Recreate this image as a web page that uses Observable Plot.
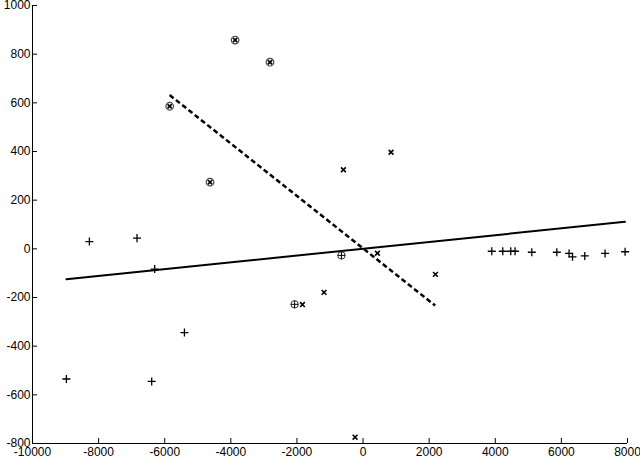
<!DOCTYPE html>
<html>
<head>
<meta charset="utf-8">
<script src="https://cdn.jsdelivr.net/npm/d3@7"></script>
<script src="https://cdn.jsdelivr.net/npm/@observablehq/plot@0.6"></script>
<style>
  html, body { margin: 0; padding: 0; background: #fff; }
</style>
</head>
<body>
<div id="chart"></div>
<script>
const xTicks = [-10000, -8000, -6000, -4000, -2000, 0, 2000, 4000, 6000, 8000];
const yTicks = [-800, -600, -400, -200, 0, 200, 400, 600, 800, 1000];

const plusX = [-8279, -6838, -6303, -5404, -8975, -6394, 3894, 4227, 4469, 4599, 5105, 5862, 6233, 6336, 6708, 7322, 7927];
const plusY = [30, 44, -83, -344, -535, -545, -10, -10, -10, -10, -14, -14, -19, -33, -29, -19, -12];

const timesX = [847, -594, -1834, 435, 2190, -1180, -242];
const timesY = [397, 325, -229, -18, -105, -179, -774];

const circTimesX = [-5850, -3870, -2815, -4630];
const circTimesY = [586, 858, 767, 274];

const circPlusX = [-2070, -654];
const circPlusY = [-228, -27];

const solidX = [-8975, 7921];
const solidY = [-125, 111];

const dashX = [-5850, 2180];
const dashY = [632, -233];

const zip = (xs, ys) => xs.map((x, i) => ({x, y: ys[i]}));
const plus = zip(plusX, plusY);
const times = zip(timesX, timesY);
const circTimes = zip(circTimesX, circTimesY);
const circPlus = zip(circPlusX, circPlusY);
const solid = zip(solidX, solidY);
const dash = zip(dashX, dashY);

const fmt = d => String(d);

const chart = Plot.plot({
  width: 640,
  height: 458,
  marginLeft: 32,
  marginRight: 13,
  marginTop: 5,
  marginBottom: 15,
  style: {fontFamily: "'Liberation Sans', Arial, sans-serif", fontSize: "12px", color: "#000", background: "#fff"},
  x: {domain: [-10000, 8000]},
  y: {domain: [-800, 1000]},
  marks: [
    Plot.ruleX([-10000], {stroke: "#000", strokeWidth: 1}),
    Plot.ruleY([-800], {stroke: "#000", strokeWidth: 1}),
    Plot.axisX(xTicks, {tickSize: -5, tickPadding: 9, tickFormat: fmt, stroke: "#000", fill: "#000", label: null}),
    Plot.axisY(yTicks, {tickSize: -5, tickPadding: 7, tickFormat: fmt, stroke: "#000", fill: "#000", label: null}),
    Plot.line(solid, {x: "x", y: "y", stroke: "#000", strokeWidth: 2}),
    Plot.line(dash, {x: "x", y: "y", stroke: "#000", strokeWidth: 2.5, strokeDasharray: "5,3", strokeLinecap: "butt"}),
    Plot.dot(plus, {x: "x", y: "y", symbol: "plus", r: 2.7, stroke: "#000", strokeWidth: 1.3}),
    Plot.dot(times, {x: "x", y: "y", symbol: "times", r: 2.3, stroke: "#000", strokeWidth: 1.6}),
    Plot.dot(circTimes, {x: "x", y: "y", symbol: "circle", r: 3.8, stroke: "#444", strokeWidth: 1.2}),
    Plot.dot(circTimes, {x: "x", y: "y", symbol: "times", r: 2.1, stroke: "#000", strokeWidth: 1.7}),
    Plot.dot(circPlus, {x: "x", y: "y", symbol: "circle", r: 3.7, stroke: "#333", strokeWidth: 1}),
    Plot.dot(circPlus, {x: "x", y: "y", symbol: "plus", r: 2.6, stroke: "#000", strokeWidth: 1})
  ]
});
document.getElementById("chart").appendChild(chart);
</script>
</body>
</html>
